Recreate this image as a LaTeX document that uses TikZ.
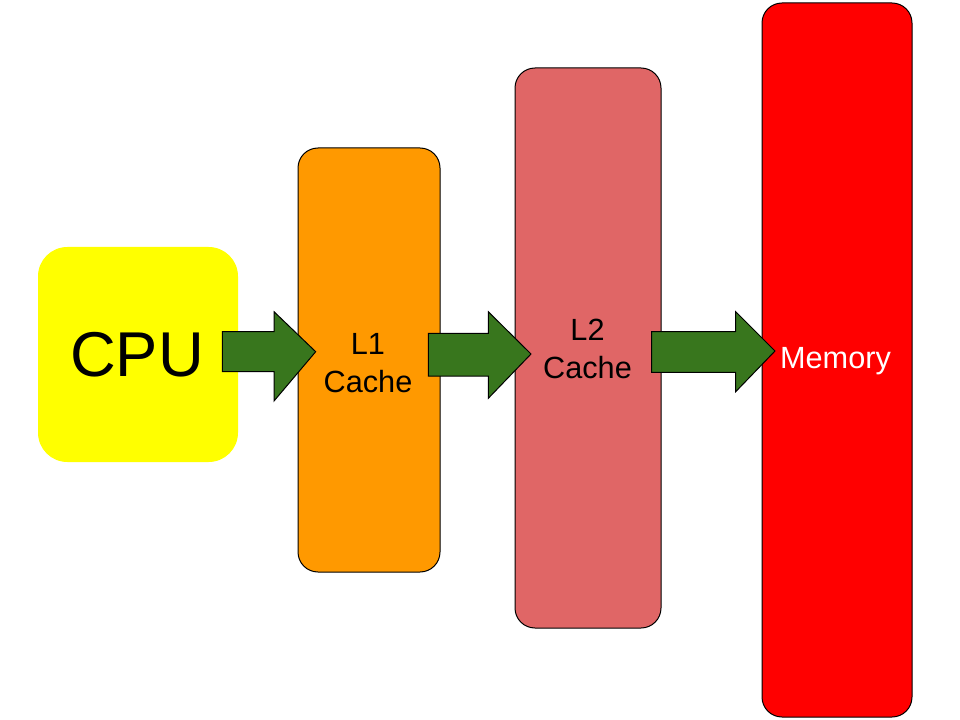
\documentclass[tikz,border=0pt]{standalone}
\usepackage{fontspec}
\setmainfont{Liberation Sans}
\definecolor{cpuyellow}{HTML}{FFFF00}
\definecolor{lone}{HTML}{FF9900}
\definecolor{ltwo}{HTML}{E06666}
\definecolor{memred}{HTML}{FF0000}
\definecolor{arrgreen}{HTML}{38761D}
\begin{document}
\begin{tikzpicture}[x=0.75pt,y=-0.75pt,
  box/.style={inner sep=0pt, align=center, font=\fontsize{23}{28.5}\selectfont},
  framed/.style={box, draw=black, line width=0.75pt, rounded corners=15pt},
  blockarrow/.style={fill=arrgreen, draw=black, line width=0.75pt}]
\useasboundingbox (0,0) rectangle (960,720);
\fill[white] (0,0) rectangle (960,720);
\node[box, fill=cpuyellow, rounded corners=22pt, minimum width=150pt, minimum height=161.25pt] (cpu) at (138,354.5) {};
\node[font=\fontsize{47.5}{55}\selectfont, inner sep=0pt] (cputext) at (137,355) {CPU};
\node[framed, fill=lone, minimum width=106.5pt, minimum height=318pt] (l1) at (369,360) {};
\node[box] (l1text) at (368,363) {L1\\Cache};
\node[framed, fill=ltwo, minimum width=109.5pt, minimum height=420pt] (l2) at (588,348) {};
\node[box] (l2text) at (587.5,348.5) {L2\\Cache};
\node[framed, fill=memred, minimum width=112.5pt, minimum height=535.5pt] (mem) at (837,360) {};
\node[box, text=white] (memtext) at (835.5,361) {Memory};
\draw[blockarrow] (222.3,331.7) -- (274,331.7) -- (274,311.7) -- (315.7,351.7) -- (274,401) -- (274,371.7) -- (222.3,371.7) -- cycle;
\draw[blockarrow] (428.3,333.3) -- (488.3,333.3) -- (488.3,311.7) -- (531,354) -- (488.3,398.3) -- (488.3,376) -- (428.3,376) -- cycle;
\draw[blockarrow] (651.7,331.7) -- (735.7,331.7) -- (735.7,311.7) -- (775,351) -- (735.7,391.7) -- (735.7,372.3) -- (651.7,372.3) -- cycle;
\end{tikzpicture}
\end{document}
